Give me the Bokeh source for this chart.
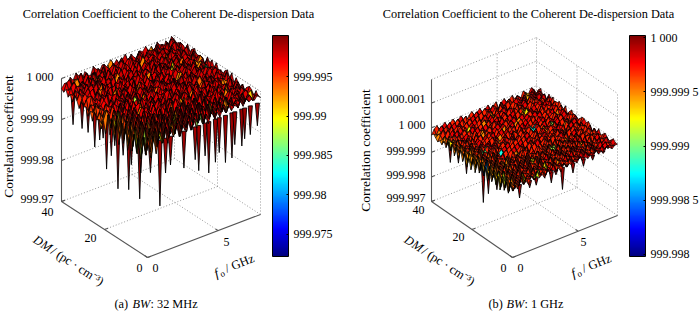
from math import radians
import numpy as np
from bokeh.embed import file_html
from bokeh.resources import INLINE
from bokeh.plotting import figure
from bokeh.layouts import row
from bokeh.models import Range1d, ColorBar, LinearColorMapper, FixedTicker, ColumnDataSource, CustomJSTickFormatter
from bokeh.core.properties import value

SERIF = "Liberation Serif"
TITLE = "Correlation Coefficient to the Coherent De-dispersion Data"

# Surface depth below 1000. Rows: DM 40 -> 0; columns: f0 0 -> 8 GHz.
UNIT_A = 0.0005
DEPTH_A = [
 [5,3,4,1,3, 0,2,5,1,3, 4,0,2,4,1, 5,2,0,3,1, 4,2,0,4,1, 3,5,1,2,0, 3,1,4,0,2, 5,1,3,0,2],
 [6,2,1,4,2, 3,0,3,1,6, 2,4,1,3,0, 2,5,1,3,2, 0,4,2,1,5, 3,0,2,5,1, 2,4,0,3,1, 2,5,0,1,3],
 [4,5,3,2,1, 4,3,0,5,2, 1,4,3,0,5, 2,1,4,3,0, 2,6,1,3,4, 0,2,5,1,3, 1,0,4,2,3, 0,3,1,4,2],
 [7,3,1,5,3, 2,5,1,3,0, 4,2,1,5,3, 4,0,2,5,1, 3,4,0,2,1, 5,3,1,4,2, 0,3,5,1,2, 4,1,0,3,2],
 [5,6,2,3,1, 3,0,4,2,5, 1,3,5,0,2, 6,3,1,4,0, 2,5,3,1,3, 0,4,2,1,5, 3,1,0,4,2, 1,3,5,0,2],
 [8,3,5,1,4, 2,5,0,3,1, 6,2,4,1,3, 0,5,2,1,5, 3,0,4,2,6, 1,3,5,0,2, 4,2,1,3,0, 5,2,1,4,3],
 [4,7,2,5,1, 5,2,3,1,3, 0,4,2,5,1, 3,0,5,2,1, 4,6,0,3,1, 5,2,0,3,5, 1,3,4,0,2, 3,1,5,2,0],
 [6,3,5,4,2, 1,4,0,3,5, 2,1,5,3,0, 4,2,6,1,3, 0,5,2,4,1, 3,0,5,2,4, 2,0,3,5,1, 2,4,1,0,3],
 [9,5,3,1,5, 2,0,6,1,3, 4,2,0,5,1, 3,5,2,0,4, 1,3,6,2,0, 4,1,5,2,3, 0,4,2,1,5, 3,0,2,4,1],
 [5,8,4,2,1, 5,3,0,4,2, 1,5,3,0,2, 6,1,4,2,0, 5,3,1,2,5, 0,3,1,4,2, 5,1,3,0,4, 2,1,5,3,0],
 [7,4,3,6,4, 1,2,5,0,3, 5,1,2,4,0, 3,5,1,2,4, 0,4,1,3,5, 2,0,5,1,3, 4,2,0,3,1, 5,2,4,0,2],
 [6,9,2,5,1, 4,0,3,5,2, 1,5,0,3,6, 2,1,4,0,3, 5,2,1,5,0, 3,4,1,2,5, 0,3,1,4,2, 1,5,0,3,2],
 [10,5,6,3,5, 2,4,1,0,5, 3,2,5,1,0, 4,2,5,1,3, 0,6,2,1,4, 3,0,2,5,1, 4,2,5,0,3, 1,2,4,1,3],
 [7,8,4,7,2, 5,1,3,5,0, 2,4,1,3,5, 0,5,2,1,4, 3,0,5,1,2, 5,3,0,2,4, 1,3,0,4,2, 5,1,3,0,2],
 [11,4,6,5,3, 1,6,2,0,4, 5,1,3,0,2, 5,1,4,3,0, 2,5,1,3,0, 4,2,6,1,3, 2,0,5,1,3, 0,4,2,1,5],
 [6,10,5,7,4, 6,2,1,5,3, 0,2,6,1,4, 3,0,2,5,1, 4,2,0,5,3, 1,4,2,0,5, 3,1,2,4,0, 2,5,1,3,0],
 [9,6,9,3,5, 2,5,0,3,1, 5,2,4,0,3, 1,5,2,4,0, 3,1,4,2,6, 0,3,5,1,2, 4,0,2,5,1, 3,1,4,0,2],
 [8,11,5,8,4, 6,1,3,2,5, 0,4,1,3,5, 2,0,5,1,3, 4,2,0,3,1, 5,2,4,0,3, 1,5,2,0,4, 2,3,1,5,0],
 [12,8,4,6,2, 3,5,2,4,0, 3,5,1,2,5, 0,3,1,4,2, 5,0,3,2,5, 1,4,2,0,3, 5,1,3,2,0, 4,1,5,2,3],
 [7,3,7,2,5, 6,2,4,1,5, 2,0,3,5,1, 4,2,0,5,1, 3,5,1,2,0, 4,3,0,5,2, 1,3,4,0,2, 5,1,2,3,0],
 [13,4,9,3,6, 1,5,1,3,5, 0,2,4,1,3, 6,0,2,5,1, 3,2,4,0,5, 1,3,2,5,0, 4,1,3,0,5, 2,0,4,1,3],
 [3,10,2,6,1, 5,3,0,5,2, 1,4,3,0,5, 2,4,1,3,6, 1,5,2,0,3, 5,1,4,2,3, 0,2,5,1,3, 4,1,0,3,2],
 [12,3,8,2,7, 1,4,6,0,3, 5,0,2,4,1, 3,0,5,2,1, 4,1,5,2,0, 3,5,1,2,4, 2,0,3,1,5, 2,4,0,1,3],
 [4,11,1,7,3, 6,0,4,2,1, 3,5,0,3,1, 5,2,4,1,0, 3,6,1,2,5, 0,3,2,5,1, 4,2,0,5,1, 3,0,2,4,1],
 [13,2,9,4,8, 1,5,2,6,0, 4,1,5,0,3, 1,4,2,5,0, 4,2,1,5,3, 2,0,4,1,3, 5,1,2,0,4, 2,5,1,3,0],
 [3,12,1,6,2, 7,0,4,1,5, 2,6,0,3,1, 4,0,5,2,3, 1,3,5,2,0, 4,2,5,1,3, 0,4,1,3,5, 1,2,4,0,3],
 [14,4,10,2,8, 1,5,3,0,6, 2,4,1,5,0, 3,1,5,2,4, 0,2,5,1,3, 5,2,0,4,2, 3,1,5,0,2, 4,1,3,5,0],
 [2,11,3,7,1, 6,2,5,1,3, 7,0,4,2,5, 1,6,0,3,5, 1,3,5,2,5, 0,2,6,3,1, 5,4,2,5,0, 3,5,1,2,4],
 [12,3,9,1,8, 2,6,0,5,2, 4,1,6,0,3, 5,1,4,0,2, 5,1,3,6,0, 3,7,1,3,5, 0,2,5,1,3, 2,4,0,5,1],
 [3,13,2,8,1, 6,1,7,0,4, 2,5,1,7,2, 5,0,6,2,4, 1,6,0,4,2, 5,0,4,6,1, 3,6,1,2,4, 1,3,5,2,3],
 [14,4,10,2,7, 3,8,1,5,2, 8,0,6,1,4, 1,7,2,5,0, 5,2,6,1,4, 0,6,2,3,6, 1,5,2,6,0, 4,2,5,1,4],
 [2,12,3,9,1, 7,2,6,0,8, 1,5,2,6,0, 7,1,5,0,6, 2,7,0,5,3, 6,1,4,2,5, 0,3,6,1,5, 2,3,1,4,2],
 [13,3,11,1,8, 2,9,0,6,1, 7,2,5,0,8, 1,6,2,7,1, 5,0,6,2,5, 1,6,3,0,4, 6,1,4,2,3, 5,1,3,1,5],
 [4,14,2,9,3, 8,1,7,2,6, 0,8,1,6,2, 6,0,7,1,5, 2,7,1,5,0, 6,2,4,1,5, 0,3,5,1,4, 2,5,1,3,2],
 [12,2,11,3,9, 1,8,2,9,0, 6,2,7,1,6, 0,7,2,5,1, 6,0,5,2,6, 1,5,0,6,1, 4,2,5,1,3, 1,4,2,5,1],
 [3,13,1,10,2, 8,0,8,1,6, 2,8,1,6,1, 7,1,5,2,6, 0,7,2,4,1, 6,1,4,2,5, 1,6,2,3,1, 5,2,1,4,2],
 [14,4,11,2,8, 2,9,1,7,0, 7,1,6,2,8, 1,6,0,7,2, 5,1,6,0,5, 2,5,1,6,0, 4,1,5,2,4, 1,5,2,1,4],
 [3,12,2,10,1, 9,0,8,2,7, 1,7,0,6,2, 8,1,5,1,6, 2,7,0,5,2, 6,0,4,2,5, 1,5,2,3,1, 4,2,3,5,1],
 [10,3,13,1,9, 2,8,1,7,2, 6,1,8,2,5, 0,7,2,5,1, 6,2,5,1,6, 1,4,2,5,1, 3,2,5,1,4, 2,1,4,2,3],
 [4,9,2,11,3, 7,1,8,2,6, 1,7,2,5,1, 6,2,6,1,5, 2,6,1,4,2, 5,1,4,1,4, 2,3,1,4,1, 3,2,3,1,3],
]
UNIT_B = 0.0001
DEPTH_B = [
 [3,1,0,2,1, 0,3,1,0,2, 1,0,2,3,1, 0,2,1,0,3, 1,0,2,1,0, 3,1,0,2,1, 0,2,1,3,0, 1,2,0,1,3],
 [2,3,1,0,2, 1,0,3,1,0, 2,1,0,2,3, 1,0,2,1,0, 1,2,0,1,3, 0,2,1,0,2, 3,0,1,2,0, 2,1,0,3,1],
 [3,2,2,1,0, 2,1,0,3,1, 0,2,3,1,0, 2,1,0,3,1, 0,2,1,3,0, 2,1,0,3,1, 0,1,2,0,3, 1,0,2,1,0],
 [4,2,0,2,3, 0,2,1,0,2, 3,1,0,2,1, 0,3,1,2,0, 1,3,0,2,1, 0,3,1,0,2, 1,2,0,3,1, 0,2,1,0,2],
 [3,3,2,0,2, 1,3,0,2,1, 0,3,1,0,2, 3,1,0,2,1, 3,0,2,1,0, 2,1,3,0,1, 2,0,1,3,0, 2,1,0,2,1],
 [4,1,3,1,0, 3,1,0,2,3, 1,0,2,1,0, 3,1,2,0,2, 1,0,3,1,2, 0,1,2,0,3, 1,0,2,1,3, 0,2,1,0,3],
 [2,4,1,2,1, 0,2,1,0,3, 1,0,2,3,1, 0,2,1,0,3, 1,2,0,1,3, 2,0,1,3,0, 2,1,0,2,1, 3,0,1,2,0],
 [4,1,3,0,2, 2,1,0,3,1, 0,2,1,0,3, 1,0,2,1,0, 3,1,0,2,1, 0,3,1,0,2, 1,3,0,2,1, 0,2,3,0,1],
 [1,5,1,3,0, 2,3,1,0,2, 1,0,3,1,0, 2,3,0,1,2, 0,3,1,0,2, 1,0,2,3,0, 2,1,0,3,1, 2,0,1,2,0],
 [4,1,3,1,2, 1,0,2,3,0, 2,1,0,2,1, 0,3,1,0,2, 1,0,2,1,0, 3,1,0,2,1, 0,2,1,3,0, 1,2,0,2,3],
 [1,4,0,3,1, 2,0,1,3,0, 3,0,2,1,0, 3,1,0,2,1, 0,3,1,0,2, 1,0,3,1,0, 2,1,3,0,2, 0,1,2,0,1],
 [5,1,3,0,2, 0,2,3,0,2, 1,0,2,3,1, 0,2,1,0,3, 1,0,2,1,0, 2,1,0,3,1, 0,2,1,0,2, 3,0,1,3,0],
 [1,4,1,3,0, 3,0,2,1,0, 2,3,0,1,2, 0,3,1,0,2, 1,0,3,1,0, 3,2,0,1,2, 1,0,2,3,0, 1,2,0,2,1],
 [5,0,3,1,2, 1,2,0,3,1, 0,2,1,0,3, 1,0,2,3,0, 1,2,0,3,1, 0,2,1,0,3, 2,1,0,2,1, 0,3,1,0,2],
 [1,4,1,2,0, 3,1,0,2,1, 0,3,1,2,0, 2,1,0,2,1, 0,3,1,0,2, 1,0,3,2,0, 1,3,0,2,1, 2,0,1,3,0],
 [5,1,3,0,3, 1,2,0,2,3, 1,0,2,1,0, 3,1,0,2,1, 3,0,1,2,0, 3,1,0,2,1, 0,2,1,3,0, 1,2,0,1,3],
 [1,5,0,4,1, 2,0,2,1,0, 3,1,0,2,1, 0,2,3,0,1, 2,0,3,1,0, 2,1,0,3,1, 2,0,1,2,0, 3,1,0,2,1],
 [6,1,3,1,2, 0,3,1,0,2, 1,0,2,3,0, 1,2,0,3,1, 0,2,1,0,3, 1,0,2,1,0, 3,1,2,0,1, 0,2,1,3,0],
 [2,5,1,3,0, 3,1,0,2,1, 0,3,1,0,2, 1,0,2,1,3, 0,1,3,0,2, 1,0,3,1,2, 0,2,1,0,3, 1,2,0,1,2],
 [6,1,4,0,3, 1,2,3,1,0, 2,1,0,2,3, 0,1,2,0,3, 1,0,2,1,0, 3,1,0,2,1, 3,0,2,1,0, 2,1,3,0,1],
 [1,5,1,3,1, 3,0,2,0,3, 2,3,1,0,2, 1,0,3,1,0, 2,1,3,0,1, 2,0,3,1,0, 1,2,0,3,1, 0,3,1,0,2],
 [6,0,4,1,3, 0,3,1,3,0, 1,0,2,1,0, 3,1,0,3,2, 0,1,2,0,3, 1,0,2,3,1, 2,0,1,2,0, 3,1,0,2,1],
 [1,5,0,3,1, 4,0,3,1,0, 2,1,0,3,1, 0,2,1,0,2, 1,3,0,2,1, 0,3,1,0,2, 1,2,0,3,1, 0,2,1,3,0],
 [5,1,4,1,3, 0,3,1,2,1, 0,3,1,0,2, 1,0,3,1,0, 2,1,0,3,1, 0,2,1,3,0, 2,1,3,0,2, 1,0,2,1,0],
 [1,6,0,4,1, 3,1,2,0,3, 1,0,2,1,3, 0,2,1,0,3, 1,0,2,1,0, 3,1,0,2,1, 0,3,1,2,0, 1,3,0,2,1],
 [5,0,4,1,3, 0,3,1,2,1, 3,0,2,3,1, 3,0,3,1,0, 2,1,3,0,2, 1,0,3,1,0, 2,1,0,3,1, 2,0,1,3,0],
 [1,6,1,3,0, 4,1,3,0,3, 1,2,1,3,0, 1,3,0,3,1, 3,2,1,3,0, 3,1,2,1,2, 0,3,1,0,2, 1,3,0,2,1],
 [6,1,4,0,3, 1,3,0,3,1, 3,0,2,1,3, 0,2,1,3,0, 2,1,3,1,3, 0,3,1,3,1, 3,0,2,1,3, 0,2,1,0,3],
 [1,5,0,4,1, 3,1,3,1,2, 0,3,1,3,0, 3,1,2,1,3, 1,3,0,2,1, 3,0,2,1,2, 1,3,0,2,1, 3,1,0,2,1],
 [5,1,4,1,3, 0,4,1,2,0, 3,1,3,0,3, 1,3,0,3,1, 3,0,2,1,3, 1,3,0,2,1, 2,0,3,1,0, 2,1,3,0,2],
 [1,6,1,3,0, 4,0,3,1,3, 1,3,0,3,1, 2,1,3,0,2, 1,3,1,2,0, 3,1,3,0,2, 1,2,0,3,1, 1,3,1,2,0],
 [5,0,4,1,3, 1,3,0,3,1, 3,0,3,1,2, 0,3,1,3,1, 3,0,2,1,3, 0,2,1,3,0, 3,1,2,0,3, 0,1,3,1,2],
 [1,6,0,4,1, 3,1,3,0,2, 1,3,1,2,0, 3,1,2,0,3, 1,2,0,3,1, 3,0,2,1,3, 0,2,1,2,0, 3,1,0,3,1],
 [6,1,4,0,3, 1,3,0,3,1, 2,0,3,1,3, 0,3,1,2,1, 3,0,2,1,3, 1,2,0,3,1, 2,0,3,1,3, 0,2,1,2,0],
 [1,5,1,3,1, 3,0,3,1,2, 0,3,1,3,0, 3,1,2,0,3, 1,3,0,2,1, 3,0,2,1,2, 1,3,0,2,1, 2,0,3,1,1],
 [5,1,4,0,3, 1,3,1,2,0, 3,1,2,1,3, 0,3,1,3,0, 2,1,3,1,2, 0,3,1,2,1, 3,0,2,1,3, 1,2,1,0,2],
 [1,5,0,3,1, 3,0,3,1,3, 0,3,1,2,1, 3,0,2,1,3, 1,2,0,3,1, 2,1,3,0,2, 1,2,0,3,1, 0,2,1,2,1],
 [5,1,3,1,3, 0,3,1,2,1, 3,0,3,1,2, 1,3,0,2,1, 3,1,2,0,3, 1,2,0,2,1, 3,0,2,1,2, 1,0,3,1,0],
 [1,4,1,3,0, 3,1,2,1,3, 0,2,1,3,1, 2,0,3,1,2, 1,3,0,2,1, 2,1,2,0,2, 1,2,1,2,0, 2,1,1,2,1],
 [3,1,3,0,2, 1,3,0,2,1, 2,1,3,0,2, 1,2,1,3,0, 2,1,2,1,2, 0,2,1,2,1, 2,0,2,1,2, 0,1,2,1,1],
]
# Coloured flecks seen on the surface: (row, column, depth).
FLECKS_A = [(11,28,20),(17,36,28),(15,22,32),(13,36,14),(20,8,24),(22,1,20),(32,0,20),(35,0,24),
            (38,4,20),(34,11,20),(38,17,26),(17,0,14),(0,15,14),(1,3,14),(35,37,18),(0,30,14),
            (26,35,14),(7,13,14),(11,20,14),(16,27,14),(20,11,14),(27,20,14),(30,32,14),(24,7,14),
            (13,7,14),(4,24,14),(34,24,14),(32,13,14),(3,9,12),(9,33,12),(22,30,12),(29,14,12),
            (37,9,14),(36,28,14),(6,30,12),(18,17,12),(25,25,12),(31,5,14),(14,14,12),(9,5,12)]
FLECKS_B = [(0,34,6),(7,28,7),(16,24,12),(17,30,9),(5,8,7),(17,5,10),(28,22,9),(30,13,7),(22,8,12),
            (24,0,15),(30,0,7),(32,0,7),(32,1,8),(7,0,7),(4,0,5),(1,0,5),(8,26,5),(12,16,5),(20,32,5),
            (24,12,5),(34,19,5),(13,35,5),(3,19,5),(10,10,5),(27,27,5),(36,5,7),(37,9,8),(35,14,7),
            (6,14,5),(15,12,5),(19,26,5),(31,30,5),(26,6,5),(11,22,5)]
# Thin spikes hanging under the near edges: DM, f0 and depth at the tip.
SPIKE_DM_A = [36.6,32.4,29.6,26.5,24.2,22.6,21,18.8,17.2,15.7,13.3,10.7,9.5,5.6,5.1,
              .8,.8,.8,.8,.8,.8,.8,.8,.8,.8,.8,.8,.8,.8,.8,.8,.8,.8]
SPIKE_F_A = [.3,.3,.3,.3,.3,.3,.3,.3,.3,.3,.3,.3,.3,.3,.3,
             1.0,.33,1.4,1.75,2.7,3.5,3.75,4.2,4.46,4.93,5.2,5.64,6.1,6.3,6.8,7,7.4,7.9]
SPIKE_D_A = [21,20,20,25,20,18,32,24,18,38,20,35,22,36,23,
             38,20,23,20,24,22,28,22,31,27,23,29,28,22,24,21,20,17]
SPIKE_DM_B = [35.5,32,28,24,20,15.7,13.2,9,6.6,3.3,.6,.6,.6,.6,.6,.6,.6,.6,.6,.6,.6]
SPIKE_F_B = [.2,.2,.2,.2,.2,.2,.2,.2,.2,.2,.63,.25,1.4,1.9,3.05,3.4,3.9,4.7,5.5,6.2,7]
SPIKE_D_B = [4,10,8,10,5,17,12,8,4,6,7.5,3,5,5,6.5,4,11,6,5,4,3]
Z_LABELS_A = ["1 000", "999.99", "999.98", "999.97"]
Z_LABELS_B = ["1 000.001", "1 000", "999.999", "999.998", "999.997"]
CB_TICKS_A = [999.975, 999.98, 999.985, 999.99, 999.995]
CB_LABELS_A = ["999.975", "999.98", "999.985", "999.99", "999.995"]
CB_TICKS_B = [999.998, 999.9985, 999.999, 999.9995, 1000.0]
CB_LABELS_B = ["999.998", "999.998 5", "999.999", "999.999 5", "1 000"]
F_TICKS = [0, 5]
DM_TICKS = [0, 20, 40]


def jet():
    out = []
    for t in np.linspace(0, 1, 256):
        r = np.clip(min(4 * t - 1.5, -4 * t + 4.5), 0, 1)
        g = np.clip(min(4 * t - 0.5, -4 * t + 3.5), 0, 1)
        b = np.clip(min(4 * t + 0.5, -4 * t + 2.5), 0, 1)
        out.append("#%02x%02x%02x" % (int(r * 255), int(g * 255), int(b * 255)))
    return out


def panel(cfg):
    p = figure(width=350, height=315, x_range=Range1d(*cfg["xr"]), y_range=Range1d(315, 0),
               output_backend="svg", toolbar_location=None, min_border=0,
               outline_line_color=None)
    p.axis.visible = False
    p.grid.visible = False
    ox, oy = cfg["origin"]
    fx, fy = cfg["fvec"]
    dx, dy = cfg["dvec"]
    zmin, zmax, zh = cfg["zmin"], cfg["zmax"], cfg["zh"]
    fmax, dmax = 8.0, 40.0

    def proj(f, d, z):
        return (ox + fx * f / fmax + dx * d / dmax,
                oy + fy * f / fmax + dy * d / dmax - zh * (z - zmin) / (zmax - zmin))

    def seg(a, b):
        pa, pb = proj(*a), proj(*b)
        return [pa[0], pb[0]], [pa[1], pb[1]]

    # dotted walls and floor grid
    gx, gy = [], []
    lines = []
    for z in cfg["zticks"][1:] + [zmax]:
        lines += [((0, dmax, z), (fmax, dmax, z)), ((fmax, dmax, z), (fmax, 0, z))]
    lines += [((fmax, dmax, zmin), (fmax, dmax, zmax)), ((fmax, 0, zmin), (fmax, 0, zmax)),
              ((5, dmax, zmin), (5, dmax, zmax)), ((fmax, 20, zmin), (fmax, 20, zmax)),
              ((5, 0, zmin), (5, dmax, zmin)), ((0, 20, zmin), (fmax, 20, zmin)),
              ((0, dmax, zmin), (fmax, dmax, zmin)), ((fmax, 0, zmin), (fmax, dmax, zmin))]
    for a, b in lines:
        x, y = seg(a, b)
        gx.append(x); gy.append(y)
    p.multi_line(gx, gy, line_color="#8c8c8c", line_width=0.9, line_dash="1 2")

    # axes
    ax, ay = [], []
    for a, b in [((0, dmax, zmin), (0, dmax, zmax)), ((0, dmax, zmin), (0, 0, zmin)),
                 ((0, 0, zmin), (fmax, 0, zmin))]:
        x, y = seg(a, b)
        ax.append(x); ay.append(y)
    for z in cfg["zticks"]:
        x, y = seg((0, dmax, z), (0.25, dmax, z))
        ax.append(x); ay.append(y)
    for f in F_TICKS:
        x, y = seg((f, 0, zmin), (f, 1.2, zmin))
        ax.append(x); ay.append(y)
    for d in DM_TICKS:
        x, y = seg((0, d, zmin), (0.25, d, zmin))
        ax.append(x); ay.append(y)
    p.multi_line(ax, ay, line_color="#555555", line_width=1.1)

    # thin spikes under the near edges
    sx, sy = [], []
    for f, d, t in zip(cfg["sf"], cfg["sd"], cfg["st"]):
        top = 1000.0 - cfg["stop"] * cfg["unit"]
        tip = 1000.0 - t * cfg["unit"]
        pts = [proj(f - 0.1, d + 0.3, top), proj(f + 0.1, d - 0.3, top), proj(f, d, tip)]
        sx.append([q[0] for q in pts]); sy.append([q[1] for q in pts])
    p.patches(sx, sy, fill_color="#a00000", line_color="black", line_width=0.9)

    # surface, painted from the far corner to the near one
    depth = np.array(cfg["depth"], float) * cfg["unit"]
    n_d, n_f = depth.shape
    zv = 1000.0 - depth
    fs = np.linspace(0, fmax, n_f)
    dms = np.linspace(dmax, 0, n_d)
    flecks = {}
    for r, c, d in cfg["flecks"]:
        for key in [(r, c), (r + 1, c), (r, c + 1)]:
            flecks[key] = d * cfg["unit"]
    xs, ys, vals = [], [], []
    for i in range(n_d - 1):
        for j in range(n_f - 2, -1, -1):
            c = [(i, j), (i, j + 1), (i + 1, j + 1), (i + 1, j)]
            pts = [proj(fs[b], dms[a], zv[a, b]) for a, b in c]
            xs.append([q[0] for q in pts])
            ys.append([q[1] for q in pts])
            own = min(zv[i, j + 1], zv[i, j], zv[i + 1, j + 1], zv[i + 1, j])
            vals.append(1000.0 - flecks[(i, j)] if (i, j) in flecks else own)
    mapper = LinearColorMapper(palette=jet(), low=cfg["cb_low"], high=cfg["cb_high"])
    src = ColumnDataSource(dict(xs=xs, ys=ys, v=vals))
    p.patches("xs", "ys", source=src, fill_color={"field": "v", "transform": mapper},
              line_color="black", line_width=0.65)

    # colour bar
    fmt = CustomJSTickFormatter(args=dict(t=cfg["cb_ticks"], l=cfg["cb_labels"]), code="""
        let b = 0;
        for (let i = 0; i < t.length; i++) { if (Math.abs(t[i] - tick) < Math.abs(t[b] - tick)) b = i; }
        return l[b];
    """)
    cb = ColorBar(color_mapper=mapper, width=16, height=221, margin=0, padding=0,
                  location=(cfg["cb_x"] - cfg["xr"][0], 315 - 256),
                  ticker=FixedTicker(ticks=cfg["cb_ticks"]), formatter=fmt,
                  major_label_text_font=SERIF, major_label_text_font_size="12px",
                  major_label_text_color="black", label_standoff=5,
                  major_tick_line_color="black", major_tick_in=2, major_tick_out=0,
                  bar_line_color="black", border_line_color=None, background_fill_color=None)
    p.add_layout(cb)

    def txt(x, y, s, size=12, angle=0.0, align="center", style="normal"):
        p.text([x], [y], text=[s], text_font=value(SERIF), text_font_size=f"{size}px",
               text_align=align, text_baseline="middle", angle=angle, text_color="black",
               text_font_style=style)

    txt(cfg["title_x"], 13, TITLE, size=12.3)
    for y, s in zip(cfg["zlabel_y"], cfg["zlabels"]):
        txt(cfg["zlabel_x"], y, s, align="right")
    txt(cfg["ylab_x"], cfg["ylab_y"], "Correlation coefficient", angle=radians(90), size=13.5)
    for x, y, s in cfg["floor_labels"]:
        txt(x, y, s)
    # rotated axis titles
    a1 = radians(-33)
    x0, y0 = cfg["dm_start"]
    txt(x0, y0, "DM", angle=a1, align="left", style="italic", size=12.5)
    txt(x0 + 21 * np.cos(a1), y0 - 21 * np.sin(a1), " / (pc · cm⁻³)", angle=a1, align="left", size=12.5)
    a2 = radians(22)
    x0, y0 = cfg["f_start"]
    txt(x0, y0, "f", angle=a2, align="left", style="italic", size=13)
    txt(x0 + 6, y0 + 1, "o", angle=a2, align="left", size=9)
    txt(x0 + 12 * np.cos(a2), y0 - 12 * np.sin(a2), "/ GHz", angle=a2, align="left", size=12.5)
    for x, s, st in cfg["caption"]:
        txt(x, 303, s, align="left", style=st, size=12.3)
    return p


A = dict(xr=(0, 350), origin=(147, 257), fvec=(113, -43), dvec=(-86, -56),
         zmin=999.97, zmax=1000.0, zh=123, depth=DEPTH_A, unit=UNIT_A, flecks=FLECKS_A,
         sf=SPIKE_F_A, sd=SPIKE_DM_A, st=SPIKE_D_A, stop=6,
         zticks=[999.97, 999.98, 999.99, 1000.0], zlabels=Z_LABELS_A, zlabel_x=53,
         zlabel_y=[76, 118, 159, 198], ylab_x=8, ylab_y=136,
         floor_labels=[(47, 211, "40"), (90, 237, "20"), (139, 267, "0"), (155, 267, "0"), (226, 241, "5")],
         dm_start=(34, 238), f_start=(214, 273), title_x=168,
         caption=[(114, "(a) ", "normal"), (132, "BW", "italic"), (150, ": 32 MHz", "normal")],
         cb_x=272, cb_low=999.9722, cb_high=1000.0002, cb_ticks=CB_TICKS_A, cb_labels=CB_LABELS_A)
B = dict(xr=(350, 700), origin=(512, 257), fvec=(105, -42), dvec=(-81, -56),
         zmin=999.997, zmax=1000.00196, zh=122, depth=DEPTH_B, unit=UNIT_B, flecks=FLECKS_B,
         sf=SPIKE_F_B, sd=SPIKE_DM_B, st=SPIKE_D_B, stop=2,
         zticks=[999.997, 999.998, 999.999, 1000.0, 1000.001], zlabels=Z_LABELS_B, zlabel_x=425,
         zlabel_y=[98, 124, 150, 174, 197], ylab_x=365, ylab_y=150,
         floor_labels=[(418, 209, "40"), (458, 236, "20"), (503, 267, "0"), (520, 267, "0"), (583, 241, "5")],
         dm_start=(405, 238), f_start=(571, 273), title_x=528,
         caption=[(488, "(b) ", "normal"), (506, "BW", "italic"), (524, ": 1 GHz", "normal")],
         cb_x=629, cb_low=999.99798, cb_high=1000.00002, cb_ticks=CB_TICKS_B, cb_labels=CB_LABELS_B)

layout = row(panel(A), panel(B), spacing=0)
open("out.html", "w").write(file_html(layout, INLINE))
